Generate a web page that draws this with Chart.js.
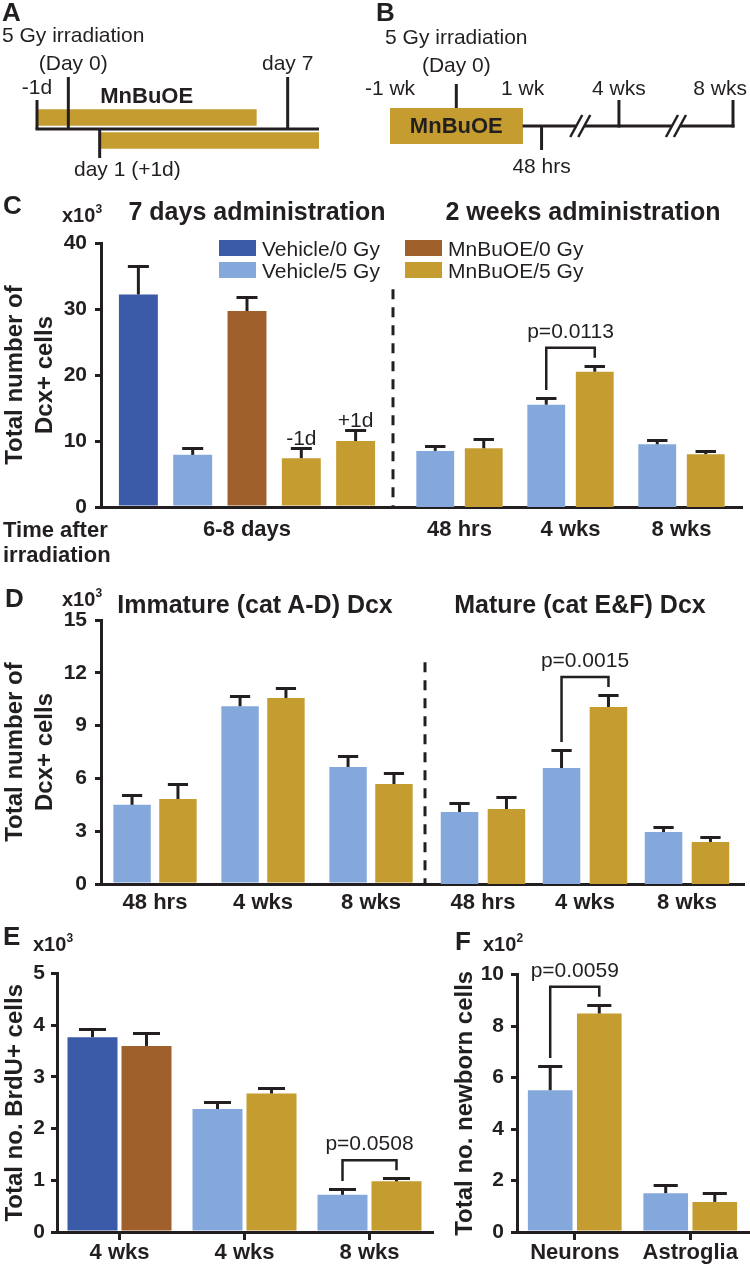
<!DOCTYPE html>
<html>
<head>
<meta charset="utf-8">
<script src="https://cdn.jsdelivr.net/npm/chart.js@4.4.1/dist/chart.umd.min.js"></script>
<style>
  html, body { margin: 0; padding: 0; background: #fff; }
  #fig { position: relative; width: 750px; height: 1267px; overflow: hidden;
         font-family: "Liberation Sans", Arial, sans-serif; color: #231f20; }
  #fig canvas { position: absolute; }
  .t { position: absolute; white-space: nowrap; line-height: 1; transform: translateY(-50%); }
  .mid { transform: translate(-50%, -50%); }
  .b { font-weight: bold; }
  .letter { font-size: 26px; font-weight: bold; }
  .unit { font-size: 20px; font-weight: bold; }
  .unit sup { font-size: 12px; vertical-align: 0; position: relative; top: -9px; }
  .head { font-size: 25px; font-weight: bold; }
  .sw { position: absolute; width: 37px; height: 16px; }
</style>
</head>
<body>
<div id="fig">
  <canvas id="cA" width="375" height="190" style="left:0;top:0"></canvas>
  <canvas id="cB" width="420" height="190" style="left:330px;top:0"></canvas>
  <canvas id="cC1" width="400" height="352" style="left:0;top:195px"></canvas>
  <canvas id="cC2" width="370" height="352" style="left:380px;top:195px"></canvas>
  <canvas id="cD1" width="440" height="344" style="left:0;top:580px"></canvas>
  <canvas id="cD2" width="335" height="344" style="left:415px;top:580px"></canvas>
  <canvas id="cE" width="440" height="312" style="left:0;top:955px"></canvas>
  <canvas id="cF" width="300" height="312" style="left:450px;top:955px"></canvas>

  <div class="t letter" style="left:2px;top:12px">A</div>
  <div class="t letter" style="left:376px;top:12px">B</div>

  <div class="t letter" style="left:3px;top:205px">C</div>
  <div class="t unit" style="left:62px;top:215px">x10<sup>3</sup></div>
  <div class="t head mid" style="left:257px;top:211px">7 days administration</div>
  <div class="t head mid" style="left:583px;top:211px">2 weeks administration</div>
  <div class="t b" style="left:3px;top:530px;font-size:22px">Time after</div>
  <div class="t b" style="left:3px;top:555px;font-size:22px">irradiation</div>

  <div class="t letter" style="left:5px;top:598px">D</div>
  <div class="t unit" style="left:62px;top:599px">x10<sup>3</sup></div>
  <div class="t head mid" style="left:255px;top:604px">Immature (cat A-D) Dcx</div>
  <div class="t head mid" style="left:580px;top:604px">Mature (cat E&amp;F) Dcx</div>

  <div class="t letter" style="left:3px;top:936px">E</div>
  <div class="t unit" style="left:33px;top:944px">x10<sup>3</sup></div>
  <div class="t letter" style="left:455px;top:941px">F</div>
  <div class="t unit" style="left:483px;top:944px">x10<sup>2</sup></div>
  <div id="legend"></div>
</div>

<script>
const ink = '#231f20';
const family = '"Liberation Sans", Arial, sans-serif';

// groups, colours
const seriesNames = ['Vehicle/0 Gy', 'Vehicle/5 Gy', 'MnBuOE/0 Gy', 'MnBuOE/5 Gy'];
const seriesColors = ['#3b5ba8', '#84a8db', '#a0602b', '#c59c2f'];
const colorOf = name => seriesColors[seriesNames.indexOf(name)];

// A - 7 days administration schedule (days after irradiation)
const aEvents = ['-1d', ['5 Gy irradiation', '(Day 0)'], 'day 1 (+1d)', 'day 7'];
const aDays = [-1, 0, 1, 7];
const aLevels = [1, 2, -1, 2];
const aCourses = ['start -1d', 'start +1d'];
const aCourseDays = [[-1, 6], [1, 8]];

// B - 2 weeks administration schedule (days after irradiation)
const bEvents = ['-1 wk', ['5 Gy irradiation', '(Day 0)'], '1 wk', '48 hrs', '4 wks', '8 wks'];
const bDays = [-7, 0, 7, 9, 28, 56];
const bLevels = [0, 2, 0, -1, 1, 1];
const bCourseDays = [[-7, 7]];
const bBreaks = [[9, 28], [28, 56]];

// C - total Dcx+ cells (x10^3), 7 days administration
const c7Labels = ['6-8 days'];
const c7Series = ['Vehicle/0 Gy', 'Vehicle/5 Gy', 'MnBuOE/0 Gy', 'MnBuOE/5 Gy', 'MnBuOE/5 Gy'];
const c7Tags = ['', '', '', '-1d', '+1d'];
const c7Mean = [32.2, 7.9, 29.7, 7.4, 10.0];
const c7Sem = [4.3, 1.0, 2.1, 1.5, 1.7];

// C - 2 weeks administration
const c2Labels = ['48 hrs', '4 wks', '8 wks'];
const c2Veh5 = [8.5, 15.5, 9.5];
const c2Veh5Sem = [0.7, 1.0, 0.7];
const c2Mn5 = [8.9, 20.5, 8.0];
const c2Mn5Sem = [1.4, 0.9, 0.5];
const c2P = {index: 1, text: 'p=0.0113'};

// D - Dcx+ cells by maturation (x10^3)
const dLabels = ['48 hrs', '4 wks', '8 wks'];
const dImmVeh5 = [4.5, 10.1, 6.65];
const dImmVeh5Sem = [0.57, 0.57, 0.62];
const dImmMn5 = [4.83, 10.57, 5.68];
const dImmMn5Sem = [0.85, 0.57, 0.63];
const dMatVeh5 = [4.09, 6.59, 2.95];
const dMatVeh5Sem = [0.51, 1.02, 0.29];
const dMatMn5 = [4.26, 10.06, 2.39];
const dMatMn5Sem = [0.68, 0.68, 0.28];
const dMatP = {index: 1, text: 'p=0.0015'};

// E - BrdU+ cells (x10^3)
const eLabels = ['4 wks', '4 wks', '8 wks'];
const eVeh0 = [3.77, null, null];
const eVeh0Sem = [0.15, null, null];
const eMn0 = [3.60, null, null];
const eMn0Sem = [0.25, null, null];
const eVeh5 = [null, 2.38, 0.72];
const eVeh5Sem = [null, 0.13, 0.11];
const eMn5 = [null, 2.68, 0.98];
const eMn5Sem = [null, 0.11, 0.06];
const eP = {index: 2, text: 'p=0.0508'};

// F - newborn cells (x10^2)
const fLabels = ['Neurons', 'Astroglia'];
const fVeh5 = [5.51, 1.51];
const fVeh5Sem = [0.94, 0.30];
const fMn5 = [8.49, 1.17];
const fMn5Sem = [0.34, 0.34];
const fP = {index: 0, text: 'p=0.0059'};

Chart.defaults.font.family = family;
Chart.defaults.color = ink;

function stroke(ctx, pts) {
  ctx.beginPath();
  pts.forEach(([px, py], k) => (k ? ctx.lineTo(px, py) : ctx.moveTo(px, py)));
  ctx.stroke();
}

// timeline label, optional stacked lines; "day 1 (+1d)" is anchored on "day 1"
function label(ctx, text, px, cy, minLeft, maxRight) {
  const lines = [].concat(text);
  ctx.font = '21px ' + family;
  ctx.textBaseline = 'middle';
  ctx.textAlign = 'center';
  const w = Math.max(...lines.map(s => ctx.measureText(s).width));
  let cx = px;
  if (lines.length === 1 && lines[0].indexOf(' (') > 0) {
    cx = px - ctx.measureText(lines[0].split(' (')[0]).width / 2 + w / 2;
  }
  cx = Math.min(Math.max(cx, minLeft + w / 2), maxRight - w / 2);
  lines.forEach((s, k) => ctx.fillText(s, cx, cy - (lines.length - 1 - k) * 28));
}

const errorBars = {
  id: 'errorBars',
  afterDatasetsDraw(chart) {
    const {ctx} = chart;
    const y = chart.scales.y;
    ctx.save();
    ctx.strokeStyle = ink; ctx.fillStyle = ink; ctx.lineWidth = 3;
    chart.data.datasets.forEach((ds, di) => {
      if (!ds.sem) return;
      chart.getDatasetMeta(di).data.forEach((bar, i) => {
        const v = ds.data[i];
        if (v == null) return;
        const top = Math.round(y.getPixelForValue(v + ds.sem[i])) + 0.5;
        const half = bar.width * 0.27;
        stroke(ctx, [[bar.x, bar.y], [bar.x, top]]);
        stroke(ctx, [[bar.x - half, top], [bar.x + half, top]]);
        const tag = ds.tags && ds.tags[i];
        if (tag) {
          ctx.font = '21px ' + family;
          ctx.textAlign = 'center';
          ctx.textBaseline = 'alphabetic';
          ctx.fillText(tag, bar.x, top - 4);
        }
      });
    });
    ctx.restore();
  }
};

function brackets(list) {
  return {
    id: 'brackets',
    afterDatasetsDraw(chart) {
      const {ctx} = chart;
      const y = chart.scales.y;
      ctx.save();
      ctx.strokeStyle = ink; ctx.fillStyle = ink; ctx.lineWidth = 2.5;
      list.forEach(({index, from, to, text}) => {
        const ends = [from, to].map(di => {
          const ds = chart.data.datasets[di];
          return {
            x: chart.getDatasetMeta(di).data[index].x,
            y: y.getPixelForValue(ds.data[index] + ds.sem[index]) - 8
          };
        });
        const top = Math.min(ends[0].y, ends[1].y) - 10;
        stroke(ctx, [[ends[0].x, ends[0].y], [ends[0].x, top], [ends[1].x, top], [ends[1].x, ends[1].y]]);
        ctx.font = '21px ' + family;
        ctx.textAlign = 'center';
        ctx.textBaseline = 'middle';
        ctx.fillText(text, (ends[0].x + ends[1].x) / 2, top - 16);
      });
      ctx.restore();
    }
  };
}

// dashed separator left of the chart area, and x axis line joining the neighbour chart
function divider(topValue, gap, tail) {
  return {
    id: 'divider',
    afterDraw(chart) {
      const {ctx, chartArea: ca} = chart;
      const y = chart.scales.y;
      const x0 = ca.left - gap;
      const yb = Math.round(ca.bottom - 1.5) + 1.5;
      ctx.save();
      ctx.strokeStyle = ink; ctx.lineWidth = 3;
      stroke(ctx, [[x0 - 2, yb], [ca.left, yb]]);
      stroke(ctx, [[ca.right, yb], [ca.right + tail, yb]]);
      ctx.setLineDash([10, 8]);
      stroke(ctx, [[x0, y.getPixelForValue(topValue)], [x0, ca.bottom]]);
      ctx.restore();
    }
  };
}

function yAxis(max, step, width, title, pad) {
  return {
    min: 0, max: max,
    ticks: {stepSize: step, font: {size: 21, weight: 'bold'}, color: ink, padding: pad},
    grid: {drawOnChartArea: false, drawTicks: true, tickLength: 6, color: ink, lineWidth: 3},
    border: {display: true, color: ink, width: 3},
    title: {display: true, text: title, color: ink, padding: 0,
            font: {size: 24, weight: 'bold', lineHeight: 1.25}},
    afterFit: s => { s.width = width; }
  };
}

function hiddenY(max) {
  return {display: false, min: 0, max: max};
}

function xAxis(height, pad, marks) {
  return {
    offset: true,
    ticks: {font: {size: 22, weight: 'bold'}, color: ink, padding: pad, maxRotation: 0, autoSkip: false},
    grid: {display: marks, drawOnChartArea: false, drawTicks: marks, tickLength: 8,
           offset: false, color: ink, lineWidth: 3},
    border: {display: true, color: ink, width: 3},
    afterFit: s => { s.height = height; }
  };
}

function bars(name, data, sem, cat, bar, tags) {
  return {label: name, data: data, sem: sem, tags: tags, backgroundColor: colorOf(name),
          borderWidth: 0, categoryPercentage: cat, barPercentage: bar, skipNull: true};
}

function makeBars(id, labels, datasets, padding, x, y, extra) {
  return new Chart(document.getElementById(id), {
    type: 'bar',
    data: {labels: labels, datasets: datasets},
    options: {
      responsive: false, animation: false, events: [], devicePixelRatio: 1,
      layout: {padding: padding},
      plugins: {legend: {display: false}, tooltip: {enabled: false}},
      scales: {x: x, y: y}
    },
    plugins: [errorBars].concat(extra || [])
  });
}

// ---- A
const aTimeline = {
  id: 'aTimeline',
  afterDatasetsDraw(chart) {
    const {ctx, chartArea: ca} = chart;
    const x = chart.scales.x;
    const mid = (ca.top + ca.bottom) / 2;
    const all = aCourseDays.flat();
    const rise = {'1': 29, '2': 52, '-1': -29};
    const textAt = {'1': 41, '2': 65, '-1': -41};
    ctx.save();
    ctx.strokeStyle = ink; ctx.fillStyle = ink; ctx.lineWidth = 3;
    stroke(ctx, [[x.getPixelForValue(Math.min(...all)) - 1.5, mid], [x.getPixelForValue(Math.max(...all)), mid]]);
    aDays.forEach((d, i) => {
      const px = x.getPixelForValue(d);
      const lv = String(aLevels[i]);
      stroke(ctx, [[px, mid], [px, mid - rise[lv]]]);
      label(ctx, aEvents[i], px, mid - textAt[lv], 2, chart.width - 2);
    });
    const first = chart.getDatasetMeta(0).data[0];
    ctx.font = 'bold 22px ' + family;
    ctx.textAlign = 'center'; ctx.textBaseline = 'middle';
    ctx.fillText(chart.data.datasets[0].label, (first.x + first.base) / 2, first.y - first.height / 2 - 13);
    ctx.restore();
  }
};

new Chart(document.getElementById('cA'), {
  type: 'bar',
  data: {labels: aCourses, datasets: [{label: 'MnBuOE', data: aCourseDays,
         backgroundColor: colorOf('MnBuOE/5 Gy'), barThickness: 16}]},
  options: {
    indexAxis: 'y', responsive: false, animation: false, events: [], devicePixelRatio: 1,
    layout: {padding: {left: 37, right: 56, top: 106, bottom: 38}},
    plugins: {legend: {display: false}, tooltip: {enabled: false}},
    scales: {
      x: {type: 'linear', display: false, min: Math.min(...aCourseDays.flat()), max: Math.max(...aCourseDays.flat())},
      y: {display: false}
    }
  },
  plugins: [aTimeline]
});

// ---- B (axis squeezed after 48 hrs, shown with breaks)
const squeeze = d => (d <= 9 ? d : 9 + (d - 9) * 0.43);

const bTimeline = {
  id: 'bTimeline',
  afterDatasetsDraw(chart) {
    const {ctx} = chart;
    const x = chart.scales.x;
    const px = d => x.getPixelForValue(squeeze(d));
    const box = chart.getDatasetMeta(0).data[0];
    const mid = box.y;
    const boxTop = box.y - box.height / 2;
    ctx.save();
    ctx.strokeStyle = ink; ctx.fillStyle = ink; ctx.lineWidth = 3;

    // line after the course, with breaks
    let start = px(bCourseDays[0][1]);
    bBreaks.forEach(([a, b]) => {
      const c = (px(a) + px(b)) / 2;
      stroke(ctx, [[start, mid], [c - 4, mid]]);
      ctx.lineWidth = 2.5;
      [-4, 4].forEach(o => stroke(ctx, [[c + o - 6, mid + 11], [c + o + 6, mid - 11]]));
      ctx.lineWidth = 3;
      start = c + 4;
    });
    stroke(ctx, [[start, mid], [px(bDays[bDays.length - 1]) + 1.5, mid]]);

    bDays.forEach((d, i) => {
      const p = px(d);
      const lv = bLevels[i];
      let cy = mid - 37;
      if (lv === 2) { stroke(ctx, [[p, boxTop], [p, mid - 42]]); cy = mid - 60; }
      if (lv === 1) { stroke(ctx, [[p, mid + 1.5], [p, mid - 26]]); }
      if (lv === -1) { stroke(ctx, [[p, mid], [p, mid + 24]]); cy = mid + 41; }
      label(ctx, bEvents[i], p, cy, 2, chart.width - 3);
    });

    ctx.font = 'bold 22px ' + family;
    ctx.textAlign = 'center'; ctx.textBaseline = 'middle';
    ctx.fillText(chart.data.datasets[0].label, (box.x + box.base) / 2, mid + 1);
    ctx.restore();
  }
};

new Chart(document.getElementById('cB'), {
  type: 'bar',
  data: {labels: ['2 weeks'], datasets: [{label: 'MnBuOE',
         data: bCourseDays.map(r => r.map(squeeze)),
         backgroundColor: colorOf('MnBuOE/5 Gy'), categoryPercentage: 1, barPercentage: 1}]},
  options: {
    indexAxis: 'y', responsive: false, animation: false, events: [], devicePixelRatio: 1,
    layout: {padding: {left: 60, right: 17, top: 108, bottom: 46}},
    plugins: {legend: {display: false}, tooltip: {enabled: false}},
    scales: {
      x: {type: 'linear', display: false, min: squeeze(bDays[0]), max: squeeze(bDays[bDays.length - 1])},
      y: {display: false}
    }
  },
  plugins: [bTimeline]
});

// ---- C
const dcxTitle = ['Total number of', 'Dcx+ cells'];

makeBars('cC1', c7Labels,
  c7Series.map((n, i) => bars(n, [c7Mean[i]], [c7Sem[i]], 0.93, 0.717, [c7Tags[i]])),
  {left: 0, right: 7, top: 48, bottom: 0},
  xAxis(40, 10, false), yAxis(40, 10, 101, dcxTitle, 8));

makeBars('cC2', c2Labels,
  [bars('Vehicle/5 Gy', c2Veh5, c2Veh5Sem, 0.874, 0.78),
   bars('MnBuOE/5 Gy', c2Mn5, c2Mn5Sem, 0.874, 0.78)],
  {left: 24, right: 13, top: 48, bottom: 0},
  xAxis(40, 10, false), hiddenY(40),
  [brackets([{index: c2P.index, from: 0, to: 1, text: c2P.text}]), divider(33, 11, 6)]);

// legend
const legend = document.getElementById('legend');
seriesNames.forEach((n, i) => {
  const left = [219, 405][Math.floor(i / 2)];
  const top = [240, 262][i % 2];
  legend.insertAdjacentHTML('beforeend',
    '<div class="sw" style="left:' + left + 'px;top:' + top + 'px;background:' + seriesColors[i] + '"></div>' +
    '<div class="t" style="left:' + (left + 43) + 'px;top:' + (top + 8) + 'px;font-size:21px">' + n + '</div>');
});

// ---- D
makeBars('cD1', dLabels,
  [bars('Vehicle/5 Gy', dImmVeh5, dImmVeh5Sem, 0.85, 0.815),
   bars('MnBuOE/5 Gy', dImmMn5, dImmMn5Sem, 0.85, 0.815)],
  {left: 0, right: 15, top: 40, bottom: 0},
  xAxis(40, 6, false), yAxis(15, 3, 101, dcxTitle, 8));

makeBars('cD2', dLabels,
  [bars('Vehicle/5 Gy', dMatVeh5, dMatVeh5Sem, 0.92, 0.8),
   bars('MnBuOE/5 Gy', dMatMn5, dMatMn5Sem, 0.92, 0.8)],
  {left: 17, right: 12, top: 40, bottom: 0},
  xAxis(40, 6, false), hiddenY(15),
  [brackets([{index: dMatP.index, from: 0, to: 1, text: dMatP.text}]), divider(12.6, 7, 7)]);

// ---- E
makeBars('cE', eLabels,
  [bars('Vehicle/0 Gy', eVeh0, eVeh0Sem, 0.864, 0.926),
   bars('MnBuOE/0 Gy', eMn0, eMn0Sem, 0.864, 0.926),
   bars('Vehicle/5 Gy', eVeh5, eVeh5Sem, 0.864, 0.926),
   bars('MnBuOE/5 Gy', eMn5, eMn5Sem, 0.864, 0.926)],
  {left: 0, right: 8, top: 12, bottom: 0},
  xAxis(35, 0, true), yAxis(5, 1, 57, 'Total no. BrdU+ cells', 6),
  [brackets([{index: eP.index, from: 2, to: 3, text: eP.text}])]);

// ---- F
makeBars('cF', fLabels,
  [bars('Vehicle/5 Gy', fVeh5, fVeh5Sem, 0.85, 0.91),
   bars('MnBuOE/5 Gy', fMn5, fMn5Sem, 0.85, 0.91)],
  {left: 0, right: 2, top: 11, bottom: 0},
  xAxis(35, 0, true), yAxis(10, 2, 67, 'Total no. newborn cells', 7),
  [brackets([{index: fP.index, from: 0, to: 1, text: fP.text}])]);
</script>
</body>
</html>
